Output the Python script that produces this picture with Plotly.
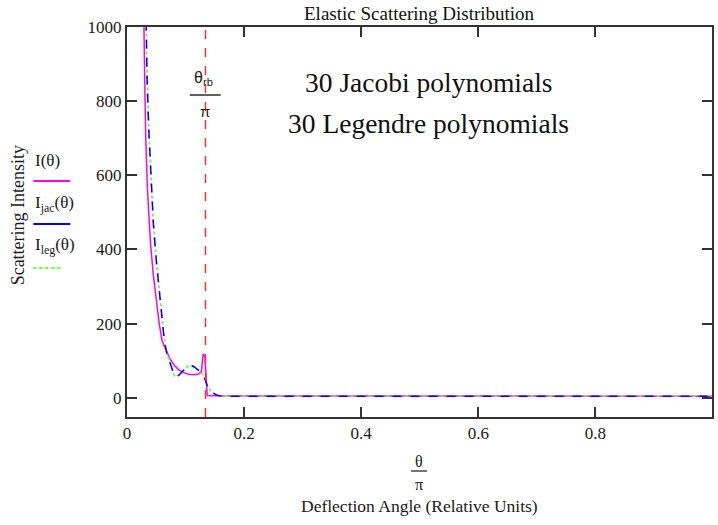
import plotly.graph_objects as go

# ---------------- data ----------------
theta_I = [0.024, 0.028, 0.030, 0.032, 0.035, 0.040, 0.045, 0.050, 0.055, 0.060, 0.067,
           0.073, 0.080, 0.088, 0.095, 0.105, 0.115, 0.122, 0.127, 0.130, 0.133, 0.135,
           0.137, 0.150, 0.180, 0.210, 0.250, 0.400, 0.600, 0.800, 1.000]
I_vals = [1600, 1000, 880, 700, 560, 420, 330, 265, 200, 152, 126,
          106, 89, 76, 69, 63, 62, 64, 70, 118, 112, 60,
          6, 5, 5, 5, 4, 4, 4, 4, 4]

theta_jac = [0.028, 0.032, 0.034, 0.037, 0.041, 0.045, 0.050, 0.055, 0.060, 0.064, 0.068,
             0.0725, 0.077, 0.081, 0.085, 0.0895, 0.094, 0.098, 0.103, 0.1066, 0.111,
             0.115, 0.120, 0.1236, 0.128, 0.132, 0.135, 0.138, 0.142, 0.146, 0.152,
             0.158, 0.165, 0.180, 0.200, 0.215, 0.250, 0.400, 0.600, 0.800, 1.000]
I_jac = [1500, 1000, 880, 730, 600, 470, 370, 285, 200, 150, 120,
         100, 76, 59, 57, 62, 70, 77, 84, 87, 86,
         83, 78, 72, 65, 54, 41, 29, 20, 14, 8,
         5, 4, 4, 5, 5, 4, 4, 4, 4, 4]
I_leg = [1500, 1000, 880, 730, 600, 470, 370, 285, 200, 150, 120,
         100, 76, 59, 57, 62, 70, 77, 84, 87, 86,
         83, 78, 72, 65, 54, 41, 29, 20, 14, 8,
         5, 4, 4, 6, 5, 4, 4, 4, 4, 4]

theta_rb_over_pi = 0.134

x_tickvals = [0, 0.2, 0.4, 0.6, 0.8]
x_ticktext = ["0", "0.2", "0.4", "0.6", "0.8"]
y_tickvals = [0, 200, 400, 600, 800, 1000]
y_ticktext = ["0", "200", "400", "600", "800", "1000"]

# ---------------- layout helpers (window pixels) ----------------
W, H = 718, 525
PL, PR, PT, PB = 127, 714, 27, 417          # plot box
L, T, R, B = PL, PT, W - PR, H - PB
PW, PH = PR - PL, PB - PT


def px(xp):
    return (xp - PL) / PW


def py(yp):
    return (PB - yp) / PH


SERIF = "Liberation Serif"
SANS = "Liberation Sans"
TXT = "#1a1a1a"
AX = "#333333"

fig = go.Figure()
fig.add_trace(go.Scatter(x=theta_I, y=I_vals, mode="lines", name="I(θ)",
                         line=dict(color="#ff00ff", width=1.5)))
fig.add_trace(go.Scatter(x=theta_jac, y=I_leg, mode="lines", name="I_leg(θ)",
                         line=dict(color="#66ff33", width=1.8, dash="dot")))
fig.add_trace(go.Scatter(x=theta_jac, y=I_jac, mode="lines", name="I_jac(θ)",
                         line=dict(color="#0000ff", width=1.5, dash="dash")))

axis_common = dict(showgrid=False, zeroline=False, showline=True, linecolor=AX, linewidth=2,
                   mirror="ticks", ticks="inside", ticklen=10, tickwidth=1.5, tickcolor=AX,
                   tickfont=dict(family=SERIF, size=17, color=TXT))

fig.update_layout(
    width=W, height=H, autosize=False,
    margin=dict(l=L, r=R, t=T, b=B),
    paper_bgcolor="white", plot_bgcolor="white",
    showlegend=False,
    xaxis=dict(range=[0, 0.999], tickvals=x_tickvals, ticktext=x_ticktext, **axis_common),
    yaxis=dict(range=[-52, 1000], tickvals=y_tickvals, ticktext=y_ticktext, **axis_common),
)

ann = []
shapes = []

# title
ann.append(dict(text="Elastic Scattering Distribution", x=px(420), y=py(14), xref="paper", yref="paper",
                showarrow=False, font=dict(family=SERIF, size=19, color="#111111"),
                xanchor="center", yanchor="middle"))

# polynomial labels
ann.append(dict(text="30 Jacobi polynomials", x=px(430), y=py(82), xref="paper", yref="paper",
                showarrow=False, font=dict(family=SERIF, size=27.5, color="#111111"),
                xanchor="center", yanchor="middle"))
ann.append(dict(text="30 Legendre polynomials", x=px(430), y=py(123), xref="paper", yref="paper",
                showarrow=False, font=dict(family=SERIF, size=27.5, color="#111111"),
                xanchor="center", yanchor="middle"))

# red vertical line at theta_rb/pi
shapes.append(dict(type="line", xref="x", yref="paper", x0=theta_rb_over_pi, x1=theta_rb_over_pi,
                   y0=0, y1=1, line=dict(color="#ff3333", width=1.5, dash="dash")))

# theta_rb / pi label
ann.append(dict(text="θ<sub>rb</sub>", x=px(192), y=py(78), xref="paper", yref="paper",
                showarrow=False, font=dict(family=SANS, size=16, color=TXT),
                xanchor="left", yanchor="middle"))
shapes.append(dict(type="line", xref="paper", yref="paper", x0=px(190), x1=px(221),
                   y0=py(95), y1=py(95), line=dict(color=TXT, width=1.4)))
ann.append(dict(text="π", x=px(205), y=py(111), xref="paper", yref="paper",
                showarrow=False, font=dict(family=SANS, size=15, color=TXT),
                xanchor="center", yanchor="middle"))

# x-axis title fraction
ann.append(dict(text="θ", x=px(420), y=py(461), xref="paper", yref="paper",
                showarrow=False, font=dict(family=SERIF, size=16, color=TXT),
                xanchor="center", yanchor="middle"))
shapes.append(dict(type="line", xref="paper", yref="paper", x0=px(412), x1=px(428),
                   y0=py(471), y1=py(471), line=dict(color=TXT, width=1.2)))
ann.append(dict(text="π", x=px(420), y=py(484), xref="paper", yref="paper",
                showarrow=False, font=dict(family=SERIF, size=16, color=TXT),
                xanchor="center", yanchor="middle"))
ann.append(dict(text="Deflection Angle (Relative Units)", x=px(420), y=py(506), xref="paper",
                yref="paper", showarrow=False, font=dict(family=SERIF, size=17.5, color=TXT),
                xanchor="center", yanchor="middle"))

# y-axis title
ann.append(dict(text="Scattering Intensity", x=px(18), y=py(215), xref="paper", yref="paper",
                showarrow=False, textangle=-90, font=dict(family=SERIF, size=18, color=TXT),
                xanchor="center", yanchor="middle"))

# legend
leg = [("I(θ)", 160, 181, "#ff00ff", "solid", 70),
       ("I<sub>jac</sub>(θ)", 204, 224, "#0000ff", "solid", 70),
       ("I<sub>leg</sub>(θ)", 246, 268, "#66ff33", "dot", 62)]
for label, ty, ly, col, dash, xe in leg:
    ann.append(dict(text=label, x=px(33), y=py(ty), xref="paper", yref="paper",
                    showarrow=False, font=dict(family=SERIF, size=17, color=TXT),
                    xanchor="left", yanchor="middle"))
    shapes.append(dict(type="line", xref="paper", yref="paper", x0=px(33), x1=px(xe),
                       y0=py(ly), y1=py(ly), line=dict(color=col, width=1.8, dash=dash)))

fig.update_layout(annotations=ann, shapes=shapes)
fig.write_html("out.html", config={"displayModeBar": False},
               post_script="document.body.style.margin='0px';document.body.style.overflow='hidden';")
